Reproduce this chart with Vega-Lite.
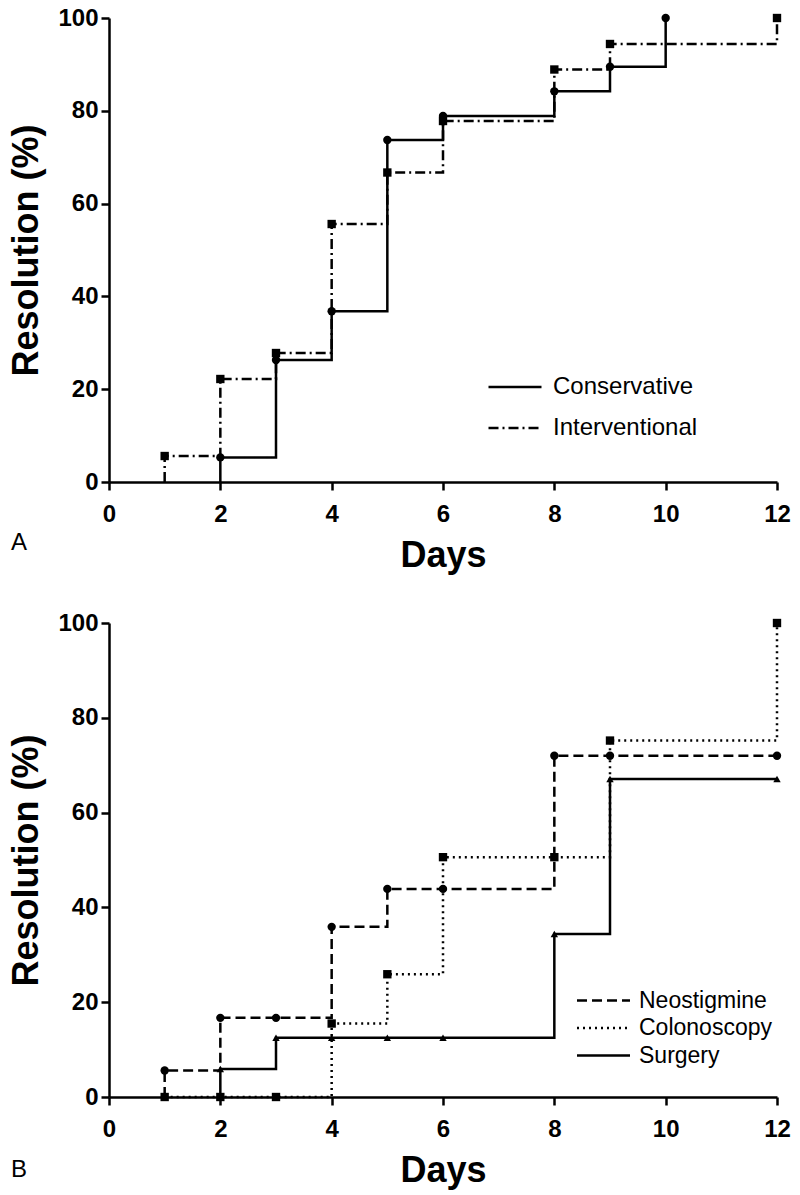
{
  "$schema": "https://vega.github.io/schema/vega-lite/v6.json",
  "padding": {"left": 8, "top": 6, "right": 5, "bottom": 5},
  "config": {
    "view": {"stroke": null},
    "font": "Liberation Sans",
    "axis": {
      "grid": false,
      "domainColor": "black",
      "domainWidth": 2.5,
      "tickColor": "black",
      "tickWidth": 2.5,
      "tickSize": 8,
      "labelFont": "Liberation Sans",
      "labelFontSize": 24,
      "labelFontWeight": "bold",
      "labelColor": "black",
      "titleFont": "Liberation Sans",
      "titleFontSize": 36,
      "titleFontWeight": "bold",
      "titleColor": "black"
    }
  },
  "spacing": 38,
  "resolve": {"scale": {"strokeDash": "independent", "shape": "independent"}, "legend": {"strokeDash": "independent"}},
  "datasets": {
    "panelA": [
      {"group": "Conservative", "day": 2, "pct": 0, "obs": "start"},
      {"group": "Conservative", "day": 2, "pct": 5.3, "obs": "event"},
      {"group": "Conservative", "day": 3, "pct": 26.3, "obs": "event"},
      {"group": "Conservative", "day": 4, "pct": 36.8, "obs": "event"},
      {"group": "Conservative", "day": 5, "pct": 73.7, "obs": "event"},
      {"group": "Conservative", "day": 6, "pct": 78.9, "obs": "event"},
      {"group": "Conservative", "day": 8, "pct": 84.2, "obs": "event"},
      {"group": "Conservative", "day": 9, "pct": 89.5, "obs": "event"},
      {"group": "Conservative", "day": 10, "pct": 100, "obs": "event"},
      {"group": "Interventional", "day": 1, "pct": 0, "obs": "start"},
      {"group": "Interventional", "day": 1, "pct": 5.6, "obs": "event"},
      {"group": "Interventional", "day": 2, "pct": 22.2, "obs": "event"},
      {"group": "Interventional", "day": 3, "pct": 27.8, "obs": "event"},
      {"group": "Interventional", "day": 4, "pct": 55.6, "obs": "event"},
      {"group": "Interventional", "day": 5, "pct": 66.7, "obs": "event"},
      {"group": "Interventional", "day": 6, "pct": 77.8, "obs": "event"},
      {"group": "Interventional", "day": 8, "pct": 88.9, "obs": "event"},
      {"group": "Interventional", "day": 9, "pct": 94.4, "obs": "event"},
      {"group": "Interventional", "day": 12, "pct": 100, "obs": "event"}
    ],
    "panelB": [
      {"group": "Neostigmine", "day": 1, "pct": 0, "obs": "start"},
      {"group": "Neostigmine", "day": 1, "pct": 5.6, "obs": "event"},
      {"group": "Neostigmine", "day": 2, "pct": 16.7, "obs": "event"},
      {"group": "Neostigmine", "day": 3, "pct": 16.7, "obs": "event"},
      {"group": "Neostigmine", "day": 4, "pct": 35.9, "obs": "event"},
      {"group": "Neostigmine", "day": 5, "pct": 43.9, "obs": "event"},
      {"group": "Neostigmine", "day": 6, "pct": 43.9, "obs": "event"},
      {"group": "Neostigmine", "day": 8, "pct": 72, "obs": "event"},
      {"group": "Neostigmine", "day": 9, "pct": 72, "obs": "event"},
      {"group": "Neostigmine", "day": 12, "pct": 72, "obs": "event"},
      {"group": "Colonoscopy", "day": 1, "pct": 0, "obs": "event"},
      {"group": "Colonoscopy", "day": 2, "pct": 0, "obs": "event"},
      {"group": "Colonoscopy", "day": 3, "pct": 0, "obs": "event"},
      {"group": "Colonoscopy", "day": 4, "pct": 15.5, "obs": "event"},
      {"group": "Colonoscopy", "day": 5, "pct": 25.9, "obs": "event"},
      {"group": "Colonoscopy", "day": 6, "pct": 50.6, "obs": "event"},
      {"group": "Colonoscopy", "day": 8, "pct": 50.6, "obs": "event"},
      {"group": "Colonoscopy", "day": 9, "pct": 75.2, "obs": "event"},
      {"group": "Colonoscopy", "day": 12, "pct": 100, "obs": "event"},
      {"group": "Surgery", "day": 2, "pct": 0, "obs": "start"},
      {"group": "Surgery", "day": 2, "pct": 5.9, "obs": "event"},
      {"group": "Surgery", "day": 3, "pct": 12.5, "obs": "event"},
      {"group": "Surgery", "day": 4, "pct": 12.5, "obs": "event"},
      {"group": "Surgery", "day": 5, "pct": 12.5, "obs": "event"},
      {"group": "Surgery", "day": 6, "pct": 12.5, "obs": "event"},
      {"group": "Surgery", "day": 8, "pct": 34.4, "obs": "event"},
      {"group": "Surgery", "day": 9, "pct": 67.1, "obs": "event"},
      {"group": "Surgery", "day": 12, "pct": 67.1, "obs": "event"}
    ]
  },
  "vconcat": [
    {
      "width": 668,
      "height": 464,
      "title": {"text": "A", "orient": "bottom", "anchor": "start", "frame": "group", "dx": -98, "dy": -46, "fontSize": 24, "fontWeight": "normal", "font": "Liberation Sans", "color": "black"},
      "data": {"name": "panelA"},
      "encoding": {
        "x": {"field": "day", "type": "quantitative", "scale": {"domain": [0, 12], "nice": false}, "axis": {"title": "Days", "values": [0, 2, 4, 6, 8, 10, 12], "labelFlush": false, "labelPadding": 12, "titlePadding": 12}},
        "y": {"field": "pct", "type": "quantitative", "scale": {"domain": [0, 100], "nice": false}, "axis": {"title": "Resolution (%)", "values": [0, 20, 40, 60, 80, 100], "labelPadding": 3, "titlePadding": 12}}
      },
      "layer": [
        {
          "mark": {"type": "line", "interpolate": "step-after", "color": "black", "strokeWidth": 2.5},
          "encoding": {
            "strokeDash": {
              "field": "group", "type": "nominal",
              "scale": {"domain": ["Conservative", "Interventional"], "range": [[1, 0], [10, 4, 2, 4]]},
              "legend": {
                "title": null, "orient": "none", "legendX": 378, "legendY": 341, "padding": 0,
                "symbolSize": 2809, "symbolStrokeWidth": 2.5, "labelOffset": 10, "rowPadding": 1,
                "labelFontSize": 24, "labelFont": "Liberation Sans", "labelColor": "black"
              }
            }
          }
        },
        {
          "transform": [{"filter": "datum.obs == 'event' && datum.group == 'Conservative'"}],
          "mark": {"type": "point", "shape": "circle", "filled": true, "color": "black", "opacity": 1, "size": 70}
        },
        {
          "transform": [{"filter": "datum.obs == 'event' && datum.group == 'Interventional'"}],
          "mark": {"type": "point", "shape": "square", "filled": true, "color": "black", "opacity": 1, "size": 70}
        }
      ]
    },
    {
      "width": 668,
      "height": 474,
      "title": {"text": "B", "orient": "bottom", "anchor": "start", "frame": "group", "dx": -98, "dy": -34, "fontSize": 24, "fontWeight": "normal", "font": "Liberation Sans", "color": "black"},
      "data": {"name": "panelB"},
      "encoding": {
        "x": {"field": "day", "type": "quantitative", "scale": {"domain": [0, 12], "nice": false}, "axis": {"title": "Days", "values": [0, 2, 4, 6, 8, 10, 12], "labelFlush": false, "labelPadding": 12, "titlePadding": 12}},
        "y": {"field": "pct", "type": "quantitative", "scale": {"domain": [0, 100], "nice": false}, "axis": {"title": "Resolution (%)", "values": [0, 20, 40, 60, 80, 100], "labelPadding": 3, "titlePadding": 12}}
      },
      "layer": [
        {
          "mark": {"type": "line", "interpolate": "step-after", "color": "black", "strokeWidth": 2.5},
          "encoding": {
            "strokeDash": {
              "field": "group", "type": "nominal",
              "scale": {"domain": ["Neostigmine", "Colonoscopy", "Surgery"], "range": [[10, 5], [2, 4], [1, 0]]},
              "legend": {
                "title": null, "orient": "none", "legendX": 483, "legendY": 366, "padding": 0,
                "symbolType": "M-2.65,0H2.65", "symbolSize": 400, "symbolStrokeWidth": 2.5, "labelOffset": 24, "rowPadding": 3.5,
                "labelFontSize": 23, "labelFont": "Liberation Sans", "labelColor": "black"
              }
            }
          }
        },
        {
          "transform": [{"filter": "datum.obs == 'event' && datum.group == 'Neostigmine'"}],
          "mark": {"type": "point", "shape": "circle", "filled": true, "color": "black", "opacity": 1, "size": 70}
        },
        {
          "transform": [{"filter": "datum.obs == 'event' && datum.group == 'Colonoscopy'"}],
          "mark": {"type": "point", "shape": "square", "filled": true, "color": "black", "opacity": 1, "size": 70}
        },
        {
          "transform": [{"filter": "datum.obs == 'event' && datum.group == 'Surgery'"}],
          "mark": {"type": "point", "shape": "triangle-up", "filled": true, "color": "black", "opacity": 1, "size": 55}
        }
      ]
    }
  ]
}
